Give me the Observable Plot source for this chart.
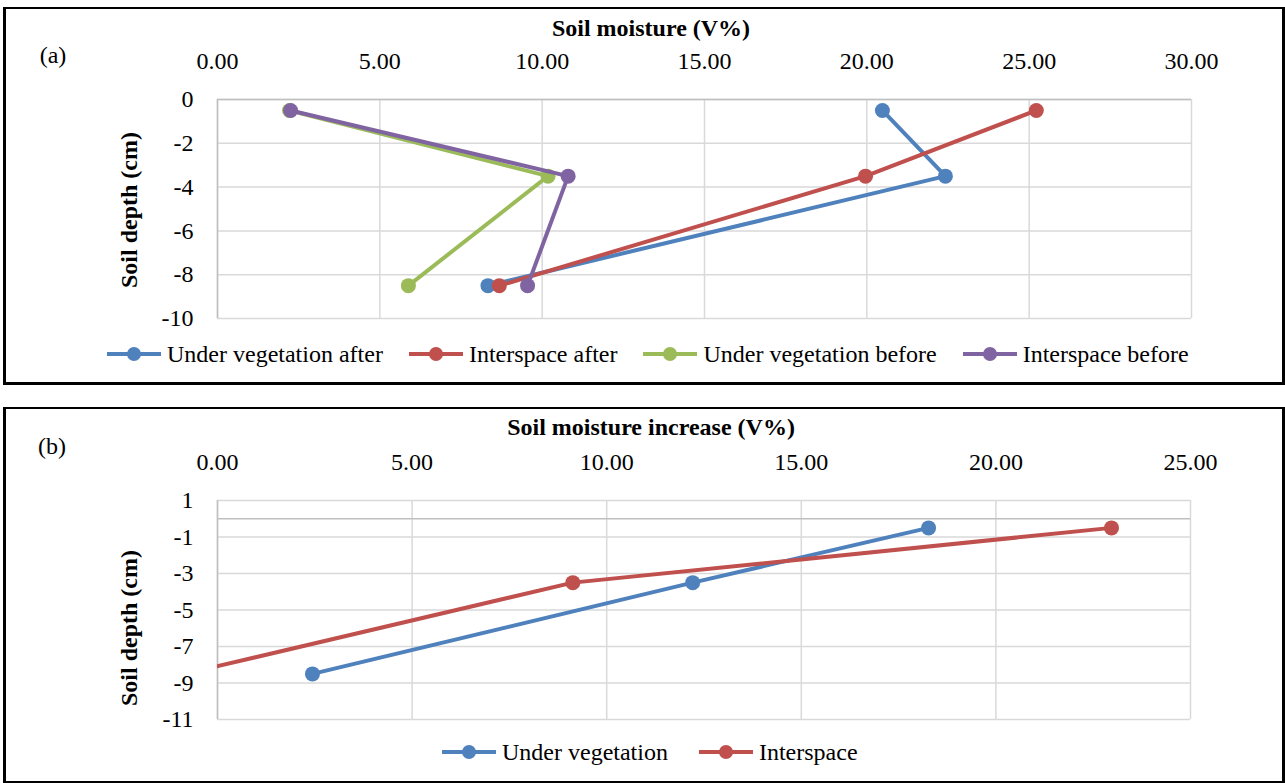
<!DOCTYPE html>
<html>
<head>
<meta charset="utf-8">
<script src="https://cdn.jsdelivr.net/npm/d3@7"></script>
<script src="https://cdn.jsdelivr.net/npm/@observablehq/plot@0.6"></script>
<style>
  html, body { margin: 0; padding: 0; background: #fff; }
  body { font-family: "Liberation Serif", "Times New Roman", serif; color: #000; }
  #wrap { position: relative; width: 1285px; height: 783px; overflow: hidden; }
  .box { position: absolute; box-sizing: border-box; border: 3px solid #000; border-top-width: 2px; }
  .abs { position: absolute; white-space: nowrap; line-height: 1; }
  .center { transform: translate(-50%, -50%); }
  .title { font-weight: bold; font-size: 24px; }
  .ylab { font-weight: bold; font-size: 24px; transform: translate(-50%, -50%) rotate(-90deg); }
  .panel-tag { font-size: 24px; }
  .legend { position: absolute; display: flex; align-items: center; font-size: 24px; line-height: 1; }
  .legend .item { display: flex; align-items: center; }
  .legend svg { margin-right: 6px; display: block; }
  .plot { position: absolute; left: 0; }
</style>
</head>
<body>
<div id="wrap"></div>
<script>
// ---- Data ----
const depths = [-0.5, -3.5, -8.5];

// Panel (a): soil moisture (V%)
const seriesA = ["Under vegetation after", "Interspace after", "Under vegetation before", "Interspace before"];
const underVegAfter = [20.48, 22.42, 8.33];
const interspaceAfter = [25.22, 19.96, 8.68];
const underVegBefore = [2.22, 10.18, 5.88];
const interspaceBefore = [2.25, 10.80, 9.55];
const colorsA = ["#4f81bd", "#c0504d", "#9bbb59", "#8064a2"];
const xTicksA = [0, 5, 10, 15, 20, 25, 30];
const yTicksA = [0, -2, -4, -6, -8, -10];

// Panel (b): soil moisture increase (V%)
const seriesB = ["Under vegetation", "Interspace"];
const underVegIncrease = [18.27, 12.21, 2.44];
const interspaceIncrease = [22.97, 9.13, -0.84];
const colorsB = ["#4f81bd", "#c0504d"];
const xTicksB = [0, 5, 10, 15, 20, 25];
const yTicksB = [1, -1, -3, -5, -7, -9, -11];

// ---- Tables ----
const valuesA = [underVegAfter, interspaceAfter, underVegBefore, interspaceBefore];
const tableA = seriesA.flatMap((s, i) => depths.map((d, j) => ({series: s, depth: d, moisture: valuesA[i][j]})));
const valuesB = [underVegIncrease, interspaceIncrease];
const tableB = seriesB.flatMap((s, i) => depths.map((d, j) => ({series: s, depth: d, moisture: valuesB[i][j]})));

const wrap = document.getElementById("wrap");

function el(cls, html, style) {
  const d = document.createElement("div");
  d.className = cls;
  d.innerHTML = html;
  Object.assign(d.style, style);
  wrap.appendChild(d);
  return d;
}

function seriesMarks(table, series, colors, clip) {
  return series.flatMap((s, i) => [
    Plot.line(table, {filter: d => d.series === s, x: "moisture", y: "depth", stroke: colors[i], strokeWidth: 4, clip}),
    Plot.dot(table, {filter: d => d.series === s, x: "moisture", y: "depth", fill: colors[i], r: 7.5, clip})
  ]);
}

function makePlot({table, series, colors, xDomain, yDomain, xTicks, yTicks, height, marginTop, marginBottom, marginRight, zeroY}) {
  return Plot.plot({
    width: 1285,
    height,
    marginLeft: 217,
    marginRight,
    marginTop,
    marginBottom,
    style: {fontFamily: "'Liberation Serif', 'Times New Roman', serif", fontSize: "24px", color: "#000", background: "transparent", overflow: "visible"},
    x: {domain: xDomain},
    y: {domain: yDomain},
    marks: [
      Plot.gridX(xTicks, {stroke: "#d9d9d9", strokeOpacity: 1, strokeWidth: 1.5}),
      Plot.gridY(yTicks, {stroke: "#d9d9d9", strokeOpacity: 1, strokeWidth: 1.5}),
      Plot.ruleY([zeroY], {stroke: "#bfbfbf", strokeWidth: 1.5}),
      Plot.ruleX([xDomain[0]], {stroke: "#bfbfbf", strokeWidth: 1.5}),
      Plot.axisX({anchor: "top", ticks: xTicks, tickSize: 0, tickPadding: 31, tickFormat: d => d.toFixed(2), label: null, fontSize: 24}),
      Plot.axisY({anchor: "left", ticks: yTicks, tickSize: 0, tickPadding: 24, tickFormat: d => String(d), label: null, fontSize: 24}),
      ...seriesMarks(table, series, colors, true)
    ]
  });
}

// Boxes
el("box", "", {left: "3px", top: "7px", width: "1282px", height: "378px"});
el("box", "", {left: "3px", top: "407px", width: "1282px", height: "377px"});

// Panel (a)
const plotA = makePlot({table: tableA, series: seriesA, colors: colorsA, xDomain: [0, 30], yDomain: [-10, 0],
  xTicks: xTicksA, yTicks: yTicksA, height: 383, marginTop: 99, marginBottom: 65, marginRight: 94, zeroY: 0});
plotA.classList.add("plot");
plotA.style.top = "0px";
wrap.appendChild(plotA);

// Panel (b)
const plotB = makePlot({table: tableB, series: seriesB, colors: colorsB, xDomain: [0, 25], yDomain: [-11, 1],
  xTicks: xTicksB, yTicks: yTicksB, height: 383, marginTop: 100, marginBottom: 64, marginRight: 95, zeroY: 0});
plotB.classList.add("plot");
plotB.style.top = "400px";
wrap.appendChild(plotB);

// Titles & labels
el("abs center title", "Soil moisture (V%)", {left: "651px", top: "28px"});
el("abs center title", "Soil moisture increase (V%)", {left: "651px", top: "427px"});
el("abs ylab", "Soil depth (cm)", {left: "129px", top: "210px"});
el("abs ylab", "Soil depth (cm)", {left: "129px", top: "628px"});
el("abs center panel-tag", "(a)", {left: "53px", top: "55px"});
el("abs center panel-tag", "(b)", {left: "52px", top: "446px"});

// Legends
function legend(series, colors, left, centerY, gap) {
  const lg = document.createElement("div");
  lg.className = "legend";
  lg.style.left = left + "px";
  lg.style.top = (centerY - 14) + "px";
  lg.style.height = "28px";
  series.forEach((s, i) => {
    const it = document.createElement("div");
    it.className = "item";
    it.style.marginRight = gap + "px";
    it.innerHTML = `<svg width="54" height="16"><line x1="0" x2="54" y1="8" y2="8" stroke="${colors[i]}" stroke-width="4"/><circle cx="27" cy="8" r="7" fill="${colors[i]}"/></svg><span>${s}</span>`;
    lg.appendChild(it);
  });
  wrap.appendChild(lg);
}
legend(seriesA, colorsA, 107, 354, 26);
legend(seriesB, colorsB, 442, 752, 31);
</script>
</body>
</html>
